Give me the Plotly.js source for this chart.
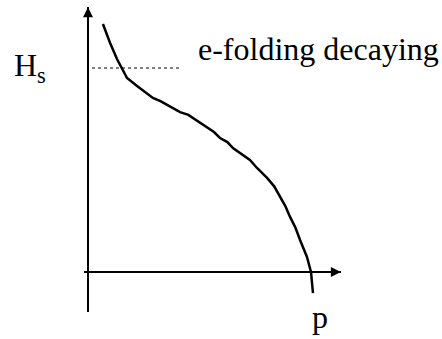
<!DOCTYPE html>
<html>
<head>
<meta charset="utf-8">
<script src="https://cdn.plot.ly/plotly-3.0.1.min.js"></script>
<style>
  html, body { margin: 0; padding: 0; background: #fff; }
  #chart { width: 442px; height: 339px; }
</style>
</head>
<body>
<div id="chart"></div>
<script>
// Curve: p (0 at the vertical axis, 1 where it cuts the p axis)
// and Hs (0 at the p axis, 1 at the dotted e-folding level)
const pValues = [0.067, 0.099, 0.130, 0.152, 0.175, 0.220, 0.262, 0.291, 0.325, 0.354, 0.390, 0.413,
                 0.450, 0.471, 0.505, 0.534, 0.565, 0.592, 0.625, 0.650, 0.695, 0.726, 0.758,
                 0.803, 0.835, 0.861, 0.885, 0.906, 0.930, 0.951, 0.982, 1.000, 1.009];
const hsValues = [1.216, 1.123, 1.044, 1.000, 0.951, 0.912, 0.878, 0.853, 0.838, 0.819, 0.798, 0.784,
                  0.770, 0.755, 0.730, 0.706, 0.686, 0.657, 0.637, 0.608, 0.574, 0.549, 0.510,
                  0.461, 0.420, 0.368, 0.323, 0.270, 0.218, 0.157, 0.074, 0.000, -0.103];

// dotted e-folding level
const levelP = [0.018, 0.413];
const levelHs = [1, 1];

// where the two axis arrows point to
const arrowP = [0, 1.134];
const arrowHs = [1.298, 0];
const arrowSymbols = ['arrow-up', 'arrow-right'];

// labels
const yLabel = 'H<sub>s</sub>';
const xLabel = 'p';
const levelLabel = 'e-folding decaying';

const labelFont = { family: 'Liberation Serif, Times New Roman, serif', size: 32, color: '#000' };

const curveTrace = {
    x: pValues,
    y: hsValues,
    type: 'scatter',
    mode: 'lines',
    line: { color: '#000', width: 2.5 },
    hoverinfo: 'skip'
};

const levelTrace = {
    x: levelP,
    y: levelHs,
    type: 'scatter',
    mode: 'lines',
    line: { color: '#000', width: 1, dash: 'dot' },
    hoverinfo: 'skip'
};

// arrow heads on the ends of the zero lines
const arrowTrace = {
    x: arrowP,
    y: arrowHs,
    type: 'scatter',
    mode: 'markers',
    cliponaxis: false,
    marker: { symbol: arrowSymbols, size: 10, color: '#000', line: { width: 0 } },
    hoverinfo: 'skip'
};

// axes are just the zero lines, the range ends where the arrows point
const layout = {
    width: 442,
    height: 339,
    margin: { l: 84, r: 101, t: 7, b: 27 },
    paper_bgcolor: '#fff',
    plot_bgcolor: '#fff',
    showlegend: false,
    xaxis: {
        range: [-0.01794, 1.1346],
        showgrid: false,
        showticklabels: false,
        ticks: '',
        zeroline: true,
        zerolinecolor: '#000',
        zerolinewidth: 2
    },
    yaxis: {
        range: [-0.19608, 1.2992],
        showgrid: false,
        showticklabels: false,
        ticks: '',
        zeroline: true,
        zerolinecolor: '#000',
        zerolinewidth: 2
    },
    annotations: [
        // the axis names sit outside the plot area, so they go on paper coords
        {
            x: -0.2802, y: 0.803, xref: 'paper', yref: 'paper', xanchor: 'left', yanchor: 'middle',
            text: yLabel, showarrow: false, font: labelFont
        },
        {
            x: 0.8794, y: -0.0164, xref: 'paper', yref: 'paper', xanchor: 'left', yanchor: 'middle',
            text: xLabel, showarrow: false, font: labelFont
        },
        {
            x: 0.484, y: 1.093, xref: 'x', yref: 'y', xanchor: 'left', yanchor: 'middle',
            text: levelLabel, showarrow: false, font: labelFont
        }
    ]
};

Plotly.newPlot('chart', [levelTrace, curveTrace, arrowTrace], layout, { staticPlot: true, displayModeBar: false });
</script>
</body>
</html>
